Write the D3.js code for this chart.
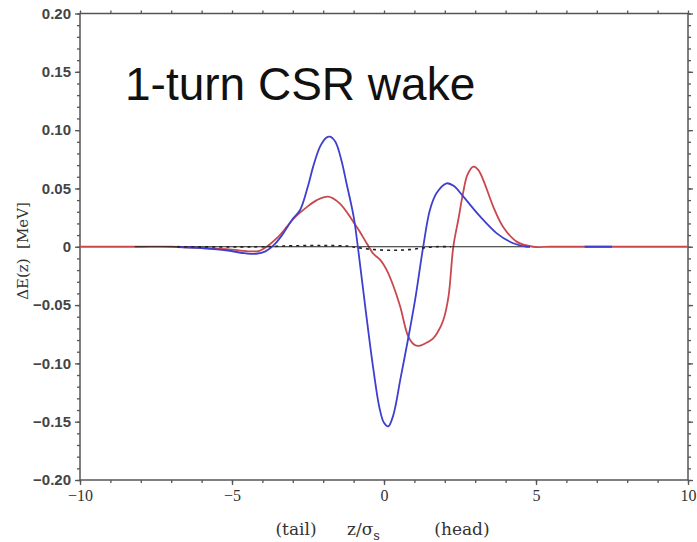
<!DOCTYPE html>
<html>
<head>
<meta charset="utf-8">
<script src="https://cdn.jsdelivr.net/npm/d3@7"></script>
<style>
body { margin: 0; background: #fff; }
</style>
</head>
<body>
<div id="chart"></div>
<script>
// tick values
var xMajor = [-10, -5, 0, 5, 10];
var xMinor = d3.range(-10, 11, 1);
var yMajor = [-0.20, -0.15, -0.10, -0.05, 0, 0.05, 0.10, 0.15, 0.20];
var yMinor = d3.range(-20, 21, 1).map(function(d){ return d / 100; });

// wake curves, [z/sigma, dE in MeV]
var redWake = [
  [-10, 0], [-9, 0], [-8, 0], [-7.0, 0], [-6.0, -0.001], [-5.0, -0.0025], [-4.4, -0.004], [-4.1, -0.0035],
  [-3.86, 0], [-3.5, 0.008], [-3.2, 0.017], [-2.98, 0.024], [-2.54, 0.034], [-2.21, 0.040],
  [-1.83, 0.043], [-1.45, 0.037], [-1.0, 0.021], [-0.8, 0.013], [-0.57, 0.003], [-0.35, -0.006],
  [-0.13, -0.011], [0.09, -0.02], [0.3, -0.033], [0.53, -0.051], [0.8, -0.077], [1.0, -0.084],
  [1.15, -0.085], [1.35, -0.083], [1.6, -0.079], [1.75, -0.074], [1.95, -0.063], [2.12, -0.043],
  [2.28, 0], [2.45, 0.024], [2.6, 0.046], [2.75, 0.062], [2.94, 0.0687], [3.1, 0.066],
  [3.27, 0.057], [3.6, 0.034], [3.92, 0.017], [4.36, 0.0044], [4.9, 0], [5.5, 0], [6.5, 0],
  [8, 0], [9, 0], [10, 0]
];

var blueWake = [
  [-6.8, 0], [-6.0, -0.0012], [-5.2, -0.003], [-4.6, -0.0055], [-4.2, -0.006], [-3.9, -0.004],
  [-3.6, 0.002], [-3.3, 0.012], [-3.0, 0.024], [-2.76, 0.0315], [-2.5, 0.052], [-2.33, 0.0687],
  [-2.1, 0.086], [-1.9, 0.0935], [-1.78, 0.0944], [-1.6, 0.090], [-1.4, 0.074], [-1.23, 0.054],
  [-1.0, 0.026], [-0.86, 0], [-0.6, -0.055], [-0.35, -0.105], [-0.15, -0.138], [0.0, -0.151],
  [0.14, -0.154], [0.3, -0.145], [0.55, -0.112], [0.8, -0.078], [1.02, -0.046], [1.29, 0],
  [1.51, 0.0315], [1.73, 0.046], [2.06, 0.0544], [2.3, 0.052], [2.61, 0.043], [3.16, 0.026],
  [3.71, 0.0115], [4.25, 0.003], [4.7, 0], [4.8, 0], [5.5, null], [6.6, 0], [7.0, 0], [7.5, 0]
];

var dashWake = [
  [-6.8, 0], [-4.0, 0], [-3.0, 0.0008], [-2.0, 0.001], [-1.2, 0.0005], [-0.8, -0.001],
  [-0.3, -0.0025], [0.3, -0.003], [0.8, -0.0025], [1.3, -0.001], [1.7, 0], [2.2, 0]
];

var zeroLine = [[-8.2, 0], [4.8, 0]];

var width = 697,
    height = 542;

var svg = d3.select("#chart")
    .append("svg")
    .attr("width", width)
    .attr("height", height)
    .style("font-family", "'Liberation Sans', Arial, sans-serif");

var x = d3.scaleLinear().domain([-10, 10]).range([80, 688]);
var y = d3.scaleLinear().domain([-0.2, 0.2]).range([480, 13.5]);

var axisColor = "#555";

function yFmt(d) {
    return Math.abs(d) < 1e-9 ? "0" : d3.format(".2f")(d);
}

function styleAxis(g) {
    g.select(".domain").remove();
    g.selectAll(".tick line").attr("stroke", axisColor).attr("stroke-width", 1.3);
}

// minor + major ticks on all four sides
svg.append("g").attr("transform", "translate(0,480)")
    .call(d3.axisBottom(x).tickValues(xMinor).tickSize(3).tickFormat(""))
    .call(styleAxis);
svg.append("g").attr("transform", "translate(0,480)")
    .call(d3.axisBottom(x).tickValues(xMajor).tickSize(5).tickPadding(5))
    .call(styleAxis)
    .selectAll("text")
    .style("font-family", "'Liberation Serif', 'Times New Roman', serif")
    .style("font-size", "16px")
    .attr("fill", "#333");

svg.append("g").attr("transform", "translate(0,13.5)")
    .call(d3.axisTop(x).tickValues(xMinor).tickSize(3).tickFormat(""))
    .call(styleAxis);

svg.append("g").attr("transform", "translate(80,0)")
    .call(d3.axisLeft(y).tickValues(yMinor).tickSize(3).tickFormat(""))
    .call(styleAxis);
svg.append("g").attr("transform", "translate(80,0)")
    .call(d3.axisLeft(y).tickValues(yMajor).tickSize(5).tickPadding(4).tickFormat(yFmt))
    .call(styleAxis)
    .selectAll("text")
    .style("font-size", "15px")
    .style("font-weight", "bold")
    .attr("fill", "#444");

svg.append("g").attr("transform", "translate(688,0)")
    .call(d3.axisRight(y).tickValues(yMinor).tickSize(3).tickFormat(""))
    .call(styleAxis);
svg.append("g").attr("transform", "translate(688,0)")
    .call(d3.axisRight(y).tickValues(yMajor).tickSize(5).tickFormat(""))
    .call(styleAxis);

// frame
svg.append("rect")
    .attr("x", x(-10))
    .attr("y", y(0.2))
    .attr("width", x(10) - x(-10))
    .attr("height", y(-0.2) - y(0.2))
    .attr("fill", "none")
    .attr("stroke", axisColor)
    .attr("stroke-width", 1.5);

var line = d3.line()
    .defined(function(d){ return d[1] !== null; })
    .x(function(d){ return x(d[0]); })
    .y(function(d){ return y(d[1]); })
    .curve(d3.curveCatmullRom.alpha(0.5));

svg.append("path")
    .datum(redWake)
    .attr("d", line)
    .attr("fill", "none")
    .attr("stroke", "#c9474d")
    .attr("stroke-width", 1.8);

svg.append("path")
    .datum(zeroLine)
    .attr("d", line)
    .attr("fill", "none")
    .attr("stroke", "#222")
    .attr("stroke-width", 1);

svg.append("path")
    .datum(blueWake)
    .attr("d", line)
    .attr("fill", "none")
    .attr("stroke", "#3f3fcf")
    .attr("stroke-width", 1.8);

svg.append("path")
    .datum(dashWake)
    .attr("d", line)
    .attr("fill", "none")
    .attr("stroke", "#222")
    .attr("stroke-width", 1.6)
    .attr("stroke-dasharray", "3,4");

// title
svg.append("text")
    .attr("x", 125)
    .attr("y", 100)
    .style("font-size", "46px")
    .attr("fill", "#111")
    .text("1-turn CSR wake");

// axis titles
svg.append("text")
    .attr("transform", "translate(28,251) rotate(-90)")
    .attr("text-anchor", "middle")
    .style("font-family", "'DejaVu Serif', serif")
    .style("font-size", "15px")
    .style("white-space", "pre")
    .attr("fill", "#333")
    .text("ΔE(z)  [MeV]");

var xl = svg.append("g")
    .style("font-family", "'DejaVu Serif', serif")
    .style("font-size", "17px")
    .attr("fill", "#333");
xl.append("text").attr("x", 296).attr("y", 535).attr("text-anchor", "middle").text("(tail)");
var zt = xl.append("text").attr("x", 347).attr("y", 535);
zt.append("tspan").text("z/σ");
zt.append("tspan").attr("dy", 5).style("font-size", "13px").text("s");
xl.append("text").attr("x", 462).attr("y", 535).attr("text-anchor", "middle").text("(head)");
</script>
</body>
</html>
